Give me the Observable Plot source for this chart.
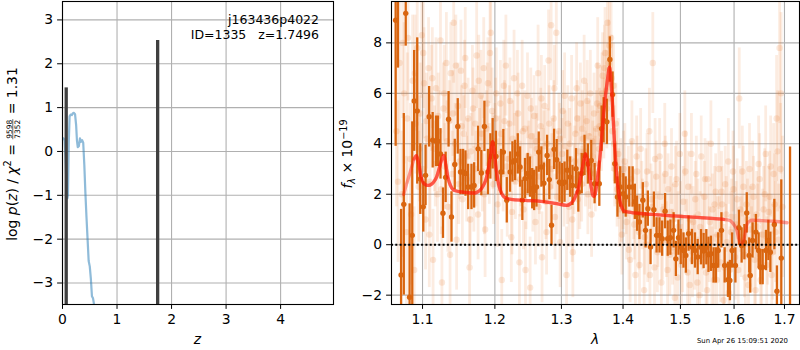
<!DOCTYPE html>
<html><head><meta charset="utf-8">
<script src="https://cdn.jsdelivr.net/npm/d3@7"></script>
<script src="https://cdn.jsdelivr.net/npm/@observablehq/plot@0.6"></script>
<style>
body{margin:0;background:#fff;}
#wrap{position:relative;width:800px;height:350px;overflow:hidden;font-family:"DejaVu Sans";}
#wrap svg{position:absolute;top:0;}
</style></head><body><div id="wrap"></div>
<script>
// ---------- data ----------
const zTicks = [0, 1, 2, 3, 4];
const pzTicks = [-3, -2, -1, 0, 1, 2, 3];
const lamTicks = [1.1, 1.2, 1.3, 1.4, 1.5, 1.6, 1.7];
const fTicks = [-2, 0, 2, 4, 6, 8];
const zeroLine = [0];
const titleText = "j163436p4022";
const idText = "ID=1335   z=1.7496";
const stampText = "Sun Apr 26 15:09:51 2020";

// log p(z) curve  [z, log p]
const pz = [[0.02,0.30],[0.04,0.25],[0.06,-0.3],[0.075,-0.9],[0.09,-1.07],[0.10,-1.0],[0.115,0.2],[0.13,0.80],[0.15,0.84],[0.17,0.83],[0.19,0.87],[0.21,0.88],[0.23,0.85],[0.25,0.6],[0.265,0.25],[0.28,0.10],[0.30,0.12],[0.32,0.30],[0.34,0.22],[0.36,0.26],[0.38,0.20],[0.40,-0.3],[0.42,-0.95],[0.44,-1.5],[0.46,-2.0],[0.48,-2.5],[0.50,-2.62],[0.52,-2.9],[0.54,-3.3],[0.56,-3.35],[0.58,-3.5]];
// chi2 minima markers [z, top]
const zPeaks = [[0.068, 1.45], [1.745, 2.53]];

// unbinned spectrum points, beam A [lambda, flux, err]
const light = [
[1.066,4.5,3.0],[1.070,7.2,3.2],[1.073,2.0,2.5],[1.076,6.0,2.8],[1.079,0.5,3.0],[1.081,8.2,2.5],[1.084,3.4,2.2],[1.087,6.5,2.6],[1.089,-1.0,2.5],[1.091,4.8,2.0],[1.093,7.8,2.4],[1.095,2.3,2.2],[1.097,5.2,2.0],[1.099,8.3,2.5],[1.100,3.0,1.8],
[1.102,6.4,2.2],[1.104,1.0,2.0],[1.106,4.2,1.8],[1.108,7.0,2.0],[1.110,2.5,1.8],[1.112,5.8,2.1],[1.114,-0.6,2.0],[1.116,3.8,1.7],[1.118,6.2,2.0],[1.120,2.0,1.9],[1.122,4.5,1.6],[1.124,8.1,2.2],[1.126,-1.5,2.2],[1.128,5.4,1.8],[1.130,3.1,1.7],[1.132,7.2,2.0],[1.134,1.5,1.8],[1.136,4.9,1.6],[1.138,6.8,2.0],[1.140,2.8,1.7],[1.142,8.8,2.4],[1.144,4.0,1.6],[1.146,0.2,2.0],[1.148,5.5,1.7],[1.150,3.3,1.5],[1.152,6.9,2.0],[1.154,1.8,1.8],[1.156,4.4,1.5],[1.158,7.4,2.0],[1.160,2.6,1.7],[1.162,5.0,1.6],[1.164,-0.9,2.0],[1.166,3.7,1.5],[1.168,6.1,1.8],[1.170,2.2,1.7],[1.172,4.8,1.5],[1.174,7.5,2.1],[1.176,1.2,1.8],[1.178,3.9,1.5],[1.180,5.9,1.8],[1.182,2.9,1.6],[1.184,7.0,2.0],[1.186,0.6,1.9],[1.188,4.6,1.5],[1.190,6.4,1.8],[1.192,3.2,1.6],[1.194,8.4,2.2],[1.196,5.3,1.7],[1.198,2.4,1.6],[1.200,4.1,1.5],
[1.202,6.0,1.8],[1.204,1.6,1.7],[1.206,3.6,1.5],[1.208,5.6,1.7],[1.210,-1.4,2.0],[1.212,2.8,1.5],[1.214,4.9,1.6],[1.216,7.1,2.0],[1.218,1.9,1.6],[1.220,3.4,1.5],[1.222,5.7,1.7],[1.224,0.3,1.8],[1.226,4.2,1.5],[1.228,6.6,1.9],[1.230,2.5,1.5],[1.232,3.9,1.4],[1.234,5.2,1.6],[1.236,-0.7,1.9],[1.238,3.0,1.5],[1.240,6.3,1.8],[1.242,1.4,1.6],[1.244,4.6,1.5],[1.246,2.1,1.5],[1.248,5.9,1.7],[1.250,3.5,1.4],[1.252,-1.7,2.0],[1.254,4.3,1.5],[1.256,2.0,1.5],[1.258,5.1,1.6],[1.260,0.9,1.7],[1.262,3.8,1.4],[1.264,6.8,1.9],[1.266,2.7,1.5],[1.268,4.7,1.5],[1.270,-0.5,1.8],[1.272,3.2,1.4],[1.274,5.5,1.6],[1.276,1.7,1.5],[1.278,4.0,1.4],[1.280,7.3,2.0],[1.282,2.3,1.5],[1.284,8.7,2.2],[1.286,3.6,1.4],[1.288,5.0,1.5],[1.290,1.1,1.7],[1.292,8.4,2.1],[1.294,3.1,1.4],[1.296,4.5,1.5],[1.298,0.1,1.8],[1.300,2.9,1.4],
[1.302,5.3,1.6],[1.304,2.2,1.5],[1.306,3.9,1.4],[1.308,-1.2,1.9],[1.310,4.8,1.5],[1.312,1.5,1.6],[1.314,3.4,1.4],[1.316,5.8,1.7],[1.318,-0.3,1.8],[1.320,2.6,1.4],[1.322,4.4,1.5],[1.324,6.2,1.8],[1.326,1.8,1.6],[1.328,3.7,1.4],[1.330,5.6,1.6],[1.332,2.4,1.5],[1.334,4.2,1.5],[1.336,6.5,1.8],[1.338,3.0,1.5],[1.340,4.9,1.5],[1.342,2.0,1.6],[1.344,4.3,1.4],[1.346,6.0,1.7],[1.348,1.2,1.7],[1.350,3.5,1.4],[1.352,5.2,1.6],[1.354,2.8,1.5],[1.356,4.6,1.5],[1.358,7.1,1.9],[1.360,3.8,1.5],[1.362,5.5,1.6],[1.364,4.4,1.5],[1.366,6.7,1.7],[1.368,5.0,1.6],[1.370,7.6,1.8],[1.372,6.1,1.6],[1.374,8.8,2.0],[1.376,7.2,1.7],[1.378,5.8,1.7],[1.380,8.2,1.9],[1.382,4.5,1.6],[1.384,6.3,1.7],[1.386,3.0,1.5],[1.388,4.8,1.6],[1.390,2.2,1.5],[1.392,3.6,1.4],[1.394,1.4,1.5],[1.396,2.8,1.4],[1.398,0.4,1.6],[1.400,2.0,1.4],
[1.403,3.3,1.5],[1.406,0.9,1.5],[1.409,2.5,1.4],[1.412,-0.6,1.7],[1.415,4.1,1.6],[1.418,1.6,1.4],[1.421,-1.2,1.8],[1.424,2.9,1.4],[1.427,0.5,1.5],[1.430,3.8,1.6],[1.433,1.2,1.4],[1.436,-1.8,1.9],[1.439,2.4,1.4],[1.442,0.0,1.5],[1.445,4.5,1.7],[1.448,1.8,1.4],[1.451,7.2,2.0],[1.454,-0.9,1.6],[1.457,2.7,1.4],[1.460,0.6,1.5],[1.463,3.5,1.5],[1.466,-1.5,1.8],[1.469,1.4,1.4],[1.472,4.0,1.6],[1.475,0.2,1.5],[1.478,2.2,1.4],[1.481,-0.4,1.6],[1.484,3.1,1.5],[1.487,1.0,1.4],[1.490,-2.1,1.9],[1.493,2.6,1.5],[1.496,0.7,1.4],[1.499,3.6,1.6],
[1.502,-0.8,1.6],[1.505,1.7,1.4],[1.508,4.4,1.7],[1.511,0.3,1.5],[1.514,2.3,1.4],[1.517,-1.6,1.8],[1.520,3.6,1.6],[1.523,0.9,1.4],[1.526,-0.3,1.5],[1.529,2.8,1.5],[1.532,1.2,1.4],[1.535,-2.0,1.9],[1.538,3.5,1.6],[1.541,0.5,1.5],[1.544,1.9,1.4],[1.547,-1.1,1.7],[1.550,2.6,1.5],[1.553,0.0,1.5],[1.556,4.0,1.7],[1.559,1.4,1.4],[1.562,-1.4,1.8],[1.565,2.1,1.5],[1.568,0.4,1.5],[1.571,3.0,1.6],[1.574,-0.7,1.6],[1.577,1.6,1.5],[1.580,-2.2,2.0],[1.583,2.4,1.5],[1.586,0.1,1.5],[1.589,3.3,1.7],[1.592,-1.0,1.7],[1.595,1.1,1.5],[1.598,2.9,1.6],
[1.602,-0.5,1.7],[1.606,1.8,1.6],[1.610,5.8,2.0],[1.614,0.3,1.6],[1.618,2.3,1.6],[1.622,-1.3,1.9],[1.626,1.0,1.6],[1.630,3.0,1.8],[1.634,-0.2,1.7],[1.638,1.9,1.6],[1.642,-1.8,2.0],[1.646,0.7,1.7],[1.650,2.6,1.8],[1.654,-0.9,1.8],[1.658,1.4,1.7],[1.662,3.6,1.9],[1.666,0.2,1.8],[1.670,1.9,1.8],[1.674,-1.2,2.0],[1.678,2.8,2.0],[1.682,0.5,2.0],[1.686,3.7,2.4],[1.690,7.8,3.0],[1.693,6.0,3.2],[1.696,1.5,2.8]
];
// unbinned spectrum points, beam B [lambda, flux, err]
const light2 = [
[1.068,2.5,3.2],[1.074,8.0,3.0],[1.080,5.0,2.6],[1.085,1.2,2.8],[1.090,6.8,2.3],[1.096,3.8,2.1],[1.101,7.6,2.2],[1.105,4.9,1.9],[1.109,0.4,2.1],[1.113,6.6,2.0],[1.117,3.2,1.7],[1.121,5.1,1.7],[1.125,2.2,1.8],[1.129,6.0,1.9],[1.133,4.1,1.6],[1.137,-0.4,2.0],[1.141,5.2,1.7],[1.145,7.1,2.0],[1.149,2.4,1.6],[1.153,4.7,1.6],[1.157,6.3,1.8],[1.161,3.5,1.5],[1.165,1.0,1.8],[1.169,5.4,1.6],[1.173,3.0,1.5],[1.177,6.5,1.8],[1.181,4.4,1.5],[1.185,2.0,1.6],[1.189,5.6,1.6],[1.193,7.6,2.0],[1.197,3.7,1.5],
[1.201,5.0,1.6],[1.205,2.7,1.5],[1.209,4.4,1.5],[1.213,6.3,1.8],[1.217,3.1,1.5],[1.221,4.8,1.5],[1.225,1.3,1.7],[1.229,3.8,1.4],[1.233,6.0,1.7],[1.237,2.6,1.5],[1.241,4.5,1.5],[1.245,-1.0,1.9],[1.249,3.3,1.4],[1.253,5.4,1.6],[1.257,2.9,1.5],[1.261,4.1,1.4],[1.265,1.5,1.6],[1.269,5.8,1.7],[1.273,3.9,1.4],[1.277,0.5,1.7],[1.281,4.8,1.5],[1.285,3.0,1.4],[1.289,6.2,1.7],[1.293,1.9,1.5],[1.297,4.2,1.4],
[1.301,3.6,1.4],[1.305,5.9,1.7],[1.309,2.3,1.5],[1.313,4.0,1.4],[1.317,1.0,1.7],[1.321,3.3,1.4],[1.325,5.0,1.5],[1.329,2.1,1.5],[1.333,4.6,1.5],[1.337,3.7,1.4],[1.341,5.7,1.6],[1.345,2.9,1.5],[1.349,4.1,1.4],[1.353,3.2,1.4],[1.357,5.6,1.6],[1.361,4.7,1.5],[1.365,6.0,1.6],[1.369,7.0,1.7],[1.373,5.4,1.6],[1.377,7.9,1.8],[1.381,6.6,1.7],[1.385,4.0,1.5],[1.389,3.1,1.5],[1.393,2.4,1.4],[1.397,1.6,1.5],
[1.401,3.0,1.5],[1.405,1.8,1.4],[1.410,-0.2,1.6],[1.414,2.6,1.5],[1.419,0.8,1.4],[1.423,3.5,1.6],[1.428,-0.8,1.7],[1.432,1.9,1.4],[1.437,0.3,1.5],[1.441,2.9,1.5],[1.446,-1.2,1.8],[1.450,1.5,1.4],[1.455,3.4,1.6],[1.459,-0.3,1.6],[1.464,1.9,1.4],[1.468,0.1,1.5],[1.473,2.8,1.5],[1.477,-1.0,1.7],[1.482,1.3,1.4],[1.486,-0.1,1.5],[1.491,2.4,1.5],[1.495,-1.3,1.7],
[1.500,1.1,1.4],[1.504,-0.4,1.5],[1.509,2.9,1.6],[1.513,-1.1,1.7],[1.518,1.0,1.4],[1.522,-0.6,1.5],[1.527,1.8,1.5],[1.531,-1.5,1.8],[1.536,0.7,1.4],[1.540,-0.4,1.5],[1.545,2.6,1.6],[1.549,-1.8,1.9],[1.554,0.9,1.5],[1.558,-0.9,1.6],[1.563,1.6,1.5],[1.567,-1.4,1.8],[1.572,0.4,1.5],[1.576,2.1,1.6],[1.581,-0.9,1.7],[1.585,1.2,1.5],[1.590,-1.9,1.9],[1.594,0.5,1.6],[1.599,2.2,1.7],
[1.604,0.8,1.7],[1.608,-1.0,1.8],[1.612,1.4,1.7],[1.616,2.9,1.8],[1.620,-0.4,1.7],[1.624,1.6,1.7],[1.628,-1.6,1.9],[1.632,0.6,1.7],[1.636,2.3,1.8],[1.640,-0.6,1.8],[1.644,1.2,1.7],[1.648,3.2,1.9],[1.652,-1.4,1.9],[1.656,0.4,1.8],[1.660,2.0,1.8],[1.664,-0.8,1.9],[1.668,1.3,1.8],[1.672,3.1,2.0],[1.676,-0.3,1.9],[1.680,1.6,2.0],[1.684,5.0,2.5],[1.688,0.2,2.2],[1.692,3.0,2.6]
];

// binned spectrum points [lambda, flux, err]
const binned = [
[1.065,8.9,5.0],[1.068,10.5,3.5],[1.072,-1.2,2.6],[1.0755,1.6,3.6],[1.078,9.17,1.3],[1.083,-2.08,3.7],[1.0865,0.37,4.5],[1.089,5.7,2.0],[1.093,5.3,2.9],[1.097,2.6,1.4],[1.101,1.5,1.0],[1.104,2.75,1.2],
[1.1088,5.07,1.2],[1.1135,4.14,1.1],[1.118,4.1,1.0],[1.1205,4.1,1.0],[1.124,3.6,1.0],[1.1274,1.25,1.0],[1.131,2.67,1.0],[1.135,4.97,1.1],[1.139,1.1,1.0],[1.1435,3.18,1.0],[1.1476,4.69,1.1],[1.1514,2.88,0.9],[1.155,2.88,0.9],[1.1583,2.82,0.9],[1.162,2.29,0.9],[1.1667,2.29,0.9],[1.1704,2.35,0.9],[1.176,3.8,0.9],[1.1806,2.84,0.9],[1.185,4.69,1.0],[1.19,2.88,0.9],[1.1935,3.5,0.9],[1.1968,4.0,1.0],
[1.2015,3.5,1.0],[1.2089,2.88,0.9],[1.2123,3.67,0.9],[1.2173,1.76,0.9],[1.2222,2.88,0.8],[1.2256,3.28,0.8],[1.2295,3.34,0.8],[1.2335,3.6,0.8],[1.2369,3.08,0.8],[1.2403,1.76,0.8],[1.2443,2.62,0.8],[1.2483,2.82,0.8],[1.2517,2.68,0.8],[1.2551,2.22,0.8],[1.258,2.15,0.8],[1.2616,2.29,0.8],[1.265,3.67,0.8],[1.269,3.08,0.8],[1.2728,2.44,0.8],[1.2778,3.54,0.8],[1.2812,2.58,0.8],[1.2846,0.77,0.8],[1.2886,3.78,0.8],[1.2926,3.37,0.8],[1.297,2.48,0.8],[1.301,2.42,0.8],[1.3049,2.48,0.8],[1.3092,2.95,0.8],[1.3136,2.68,0.8],[1.3174,2.35,0.8],[1.323,3.01,0.8],[1.3267,2.09,0.8],[1.3321,2.82,0.8],[1.3366,3.54,0.8],[1.342,3.2,0.8],[1.3475,3.34,0.8],[1.3529,2.42,0.8],
[1.3606,2.42,0.9],[1.3644,4.6,0.9],[1.3677,4.93,0.9],[1.3731,4.87,0.9],[1.378,7.34,0.9],[1.3825,5.95,0.9],[1.3862,3.21,0.8],[1.3906,1.89,0.8],[1.3951,2.29,0.8],[1.4005,2.02,0.8],[1.4045,1.89,0.8],[1.4105,2.29,0.8],[1.4162,2.29,0.8],[1.42,1.7,0.7],[1.4237,1.23,0.7],[1.4279,0.9,0.7],[1.4337,1.76,0.7],[1.4384,0.57,0.7],[1.4424,1.43,0.7],[1.4471,-0.09,0.7],[1.4529,1.39,0.7],[1.4576,0.37,0.7],[1.4628,0.37,0.7],[1.4674,0.24,0.7],[1.4726,1.33,0.7],[1.4773,0.24,0.7],[1.482,0.28,0.7],[1.4878,0.57,0.7],[1.4918,-0.56,0.7],[1.4965,0.28,0.7],[1.5006,-0.09,0.7],[1.5056,-0.23,0.7],[1.5098,-0.43,0.7],[1.5148,0.44,0.7],[1.5209,-0.09,0.7],[1.5265,-0.23,0.7],[1.5315,-0.49,0.7],[1.5376,-0.1,0.7],
[1.5425,-0.25,0.7],[1.5475,-0.1,0.7],[1.5515,-0.4,0.7],[1.5561,-0.36,0.7],[1.5611,-0.82,0.7],[1.5654,-0.82,0.7],[1.5698,-0.23,0.7],[1.5759,0.57,0.7],[1.582,-0.82,0.7],[1.5883,-1.39,0.7],[1.592,-1.42,0.8],[1.5963,-0.23,0.7],[1.6026,-0.82,0.7],[1.6094,0.67,0.7],[1.6146,-0.03,0.7],[1.62,0.1,0.7],[1.6246,1.26,0.8],[1.6294,-0.43,0.7],[1.6314,-1.22,0.7],[1.636,0.17,0.7],[1.6426,0.5,0.7],[1.648,-0.23,0.7],[1.6514,-0.89,0.7],[1.656,-0.89,0.7],[1.6626,-0.23,0.8],[1.6674,0.17,0.8],[1.6714,-0.3,0.8],[1.6794,0.8,1.0],[1.6846,-1.84,1.0],[1.6935,-0.53,3.1],[1.7114,-3.0,6.87]
];

// model spectrum [lambda, flux]
const model = [[1.0753,1.99],[1.080,2.5],[1.085,3.0],[1.089,3.4],[1.092,3.53],[1.095,3.2],[1.098,2.7],[1.101,2.45],[1.104,2.38],[1.108,2.35],[1.112,2.4],[1.115,2.49],[1.119,2.7],[1.123,3.1],[1.126,3.4],[1.1288,3.54],[1.131,3.2],[1.134,2.68],[1.1375,2.35],[1.1413,2.18],[1.147,2.12],[1.1528,2.09],[1.162,2.06],[1.1713,2.05],[1.176,2.1],[1.1806,2.22],[1.1845,2.4],[1.1875,2.62],[1.1905,3.0],[1.1935,3.48],[1.1968,4.08],[1.1995,3.6],[1.2015,3.08],[1.204,2.6],[1.2064,2.29],[1.21,2.02],[1.2137,1.89],[1.2236,1.8],[1.245,1.76],[1.268,1.72],[1.29,1.64],[1.3082,1.56],[1.314,1.62],[1.319,1.76],[1.3235,2.0],[1.3272,2.29],[1.331,2.75],[1.3344,3.21],[1.3382,3.61],[1.341,3.35],[1.3436,2.95],[1.347,2.35],[1.3502,1.95],[1.3525,1.92],[1.3546,2.09],[1.358,2.7],[1.3617,3.48],[1.365,4.4],[1.3682,5.33],[1.3738,6.5],[1.3775,7.04],[1.3798,6.5],[1.382,5.73],[1.3846,4.5],[1.3874,3.34],[1.391,2.4],[1.3944,1.76],[1.398,1.48],[1.401,1.34],[1.41,1.29],[1.4185,1.26],[1.45,1.2],[1.4883,1.14],[1.53,1.08],[1.5802,1.0],[1.59,0.97],[1.5957,0.9],[1.601,0.75],[1.6054,0.57],[1.609,0.25],[1.612,0.04],[1.6155,0.05],[1.6186,0.17],[1.622,0.5],[1.6254,0.83],[1.63,0.93],[1.6354,0.97],[1.65,0.96],[1.6786,0.93],[1.7054,0.87]];

// ---------- drawing ----------
const FONT = "DejaVu Sans";
const FS = 13.9;
const fmt = d => String(d).replace("-", "\u2212");
const ORANGE = "#d9650f";
const LIGHT = "#e8762a";
const spectrum = light.concat(light2);
const baseStyle = {fontFamily: FONT, fontSize: FS + "px", background: "white", color: "black", overflow: "visible"};

const leftPlot = Plot.plot({
  width: 340, height: 350, marginLeft: 62, marginRight: 7, marginTop: 1, marginBottom: 46,
  style: baseStyle,
  x: {domain: [0, 4.97], ticks: zTicks, tickFormat: fmt, tickSize: 4.9, tickPadding: 4.5, label: null},
  y: {domain: [-3.49, 3.42], ticks: pzTicks, tickFormat: fmt, tickSize: 4.9, tickPadding: 4.5, label: null},
  marks: [
    Plot.ruleX(zTicks, {stroke: "#b0b0b0", strokeWidth: 1.1}),
    Plot.ruleY(pzTicks, {stroke: "#b0b0b0", strokeWidth: 1.1}),
    Plot.line(pz, {x: d => d[0], y: d => d[1], stroke: "#1f77b4", strokeOpacity: 0.5, strokeWidth: 2.2, clip: true}),
    Plot.ruleX(zPeaks, {x: d => d[0], y1: -3.49, y2: d => d[1], stroke: "#404040", strokeWidth: 3.3, clip: true}),
    Plot.frame({stroke: "black", strokeWidth: 1.1})
  ]
});

const rightPlot = Plot.plot({
  width: 460, height: 350, marginLeft: 51, marginRight: 1, marginTop: 1, marginBottom: 46,
  style: baseStyle,
  x: {type: "log", domain: [1.0597, 1.731], ticks: lamTicks, tickFormat: d => d.toFixed(1), tickSize: 4.9, tickPadding: 4.5, label: null},
  y: {domain: [-2.37, 9.64], ticks: fTicks, tickFormat: fmt, tickSize: 4.9, tickPadding: 4.5, label: null},
  marks: [
    Plot.ruleX(lamTicks, {stroke: "#b0b0b0", strokeWidth: 1.1}),
    Plot.ruleY(fTicks, {stroke: "#b0b0b0", strokeWidth: 1.1}),
    Plot.ruleX(spectrum, {x: d => d[0], y1: d => d[1] - d[2], y2: d => d[1] + d[2], stroke: LIGHT, strokeOpacity: 0.14, strokeWidth: 2.8, clip: true}),
    Plot.dot(spectrum, {x: d => d[0], y: d => d[1], r: 3.2, fill: LIGHT, fillOpacity: 0.17, clip: true}),
    Plot.ruleX(binned, {x: d => d[0], y1: d => d[1] - d[2], y2: d => d[1] + d[2], stroke: ORANGE, strokeWidth: 2.3, clip: true}),
    Plot.dot(binned, {x: d => d[0], y: d => d[1], r: 2.7, fill: ORANGE, clip: true}),
    Plot.line(model, {x: d => d[0], y: d => d[1], stroke: "#ff1a0a", strokeOpacity: 0.42, strokeWidth: 3.3, curve: "monotone-x", clip: true}),
    Plot.line(model.filter(d => d[0] > 1.086 && d[0] < 1.59), {x: d => d[0], y: d => d[1], stroke: "#ff1a0a", strokeOpacity: 0.5, strokeWidth: 3.3, curve: "monotone-x", clip: true}),
    Plot.ruleY(zeroLine, {stroke: "black", strokeWidth: 2, strokeDasharray: "2,2.3"}),
    Plot.frame({stroke: "black", strokeWidth: 1.1})
  ]
});

const wrap = document.getElementById("wrap");
leftPlot.style.left = "0px";
rightPlot.style.left = "340px";
wrap.appendChild(leftPlot);
wrap.appendChild(rightPlot);

function mathLabel(svg, x, y, rot, pieces) {
  const g = d3.select(svg).append("g").attr("transform", `translate(${x},${y}) rotate(${rot})`)
    .attr("font-family", FONT).attr("fill", "black").attr("text-anchor", "start");
  const inner = g.append("g");
  let cx = 0;
  for (const p of pieces) {
    if (p.frac) {
      const n = inner.append("text").attr("font-size", p.size).attr("y", p.ny).text(p.num);
      const d = inner.append("text").attr("font-size", p.size).attr("y", p.dy).text(p.den);
      const wn = n.node().getComputedTextLength(), wd = d.node().getComputedTextLength();
      const w = Math.max(wn, wd) + 2;
      n.attr("x", cx + (w - wn) / 2);
      d.attr("x", cx + (w - wd) / 2);
      inner.append("line").attr("x1", cx + 0.5).attr("x2", cx + w - 0.5).attr("y1", p.ly).attr("y2", p.ly)
        .attr("stroke", "black").attr("stroke-width", 0.6);
      cx += w;
    } else {
      const t = inner.append("text").attr("font-size", p.size || FS).attr("y", p.dy || 0).attr("x", cx)
        .attr("xml:space", "preserve").style("white-space", "pre")
        .attr("font-style", p.it ? "italic" : null).text(p.t);
      cx += t.node().getComputedTextLength();
    }
  }
  inner.attr("transform", `translate(${-cx / 2},0)`);
}

// left y label
mathLabel(leftPlot, 16.7, 154, -90, [
  {t: "log "}, {t: "p", it: true}, {t: "("}, {t: "z", it: true}, {t: ")"}, {t: " / "},
  {t: "\u03c7", it: true}, {t: "2", size: 9.7, dy: -5.5}, {t: " = "},
  {frac: true, num: "9598", den: "7352", size: 7.5, ny: -4.9, dy: 3.0, ly: -3.9},
  {t: " = 1.31"}
]);
// left x label
mathLabel(leftPlot, 197.5, 344, 0, [{t: "z", it: true}]);
// right y label
mathLabel(rightPlot, 12, 154, -90, [
  {t: "f", it: true}, {t: "\u03bb", it: true, size: 9.7, dy: 2.8}, {t: " \u00d7 10"}, {t: "\u221219", size: 9.7, dy: -5.5}
]);
// right x label
mathLabel(rightPlot, 255, 344, 0, [{t: "\u03bb", it: true}]);

// annotations
const ls = d3.select(leftPlot);
ls.append("text").attr("x", 319).attr("y", 23.7).attr("text-anchor", "end").attr("font-family", FONT)
  .attr("font-size", 12.5).attr("fill", "black").text(titleText);
ls.append("text").attr("x", 319).attr("y", 39).attr("text-anchor", "end").attr("font-family", FONT)
  .attr("font-size", 12.5).attr("fill", "black").attr("xml:space", "preserve").style("white-space", "pre").text(idText);
d3.select(rightPlot).append("text").attr("x", 448).attr("y", 343).attr("text-anchor", "end").attr("font-family", FONT)
  .attr("font-size", 6.9).attr("fill", "black").text(stampText);
</script></body></html>
